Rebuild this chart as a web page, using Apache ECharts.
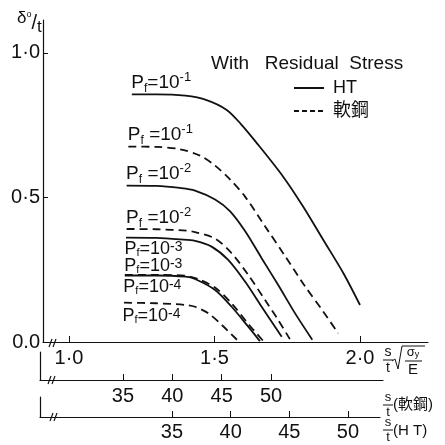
<!DOCTYPE html>
<html>
<head>
<meta charset="utf-8">
<script src="https://cdn.jsdelivr.net/npm/echarts@6/dist/echarts.min.js"></script>
<style>html,body{margin:0;padding:0;background:#fff}#c{width:445px;height:445px}</style>
</head>
<body>
<div id="c"></div>
<script>
// ---- tick values / labels ----
const xMainTickValues = [1.0, 1.5, 2.0];
const xMainTickLabels = ['1·0', '1·5', '2·0'];
const yTickValues = [0, 0.5, 1.0];
const yTickLabels = ['0.0', '0·5', '1·0'];
const mildTickValues = [35, 40, 45, 50];
const htTickValues = [35, 40, 45, 50];

// ---- curves: [λ = s/t·sqrt(σy/E), δo/t] ----
const ht_pf1 = [[1.216,0.857],[1.30,0.857],[1.40,0.852],[1.473,0.837],[1.542,0.803],[1.59,0.755],[1.64,0.695],[1.736,0.572],[1.805,0.468],[1.874,0.353],[1.943,0.238],[2.0,0.128]];
const mild_pf1 = [[1.204,0.676],[1.30,0.675],[1.381,0.667],[1.45,0.645],[1.50,0.612],[1.55,0.566],[1.605,0.503],[1.674,0.40],[1.742,0.298],[1.811,0.193],[1.874,0.105],[1.925,0.03]];
const ht_pf2 = [[1.198,0.541],[1.30,0.540],[1.381,0.533],[1.433,0.524],[1.502,0.493],[1.553,0.453],[1.605,0.384],[1.662,0.290],[1.719,0.197],[1.777,0.099],[1.836,0.008]];
const mild_pf2 = [[1.198,0.391],[1.30,0.390],[1.404,0.385],[1.433,0.380],[1.502,0.358],[1.559,0.307],[1.616,0.232],[1.674,0.145],[1.719,0.076],[1.759,0.010]];
const ht_pf3 = [[1.196,0.361],[1.30,0.360],[1.381,0.355],[1.433,0.350],[1.490,0.330],[1.547,0.284],[1.605,0.209],[1.662,0.122],[1.731,0.018]];
const mild_pf3 = [[1.192,0.232],[1.30,0.232],[1.40,0.229],[1.45,0.215],[1.505,0.186],[1.56,0.132],[1.62,0.058],[1.668,0.003]];
const ht_pf4 = [[1.192,0.230],[1.30,0.230],[1.40,0.226],[1.433,0.218],[1.502,0.180],[1.559,0.122],[1.616,0.053],[1.656,0.003]];
const mild_pf4 = [[1.189,0.136],[1.30,0.134],[1.404,0.128],[1.433,0.122],[1.479,0.099],[1.525,0.059],[1.582,0.003]];

const curveData = [ht_pf1, mild_pf1, ht_pf2, mild_pf2, ht_pf3, mild_pf3, ht_pf4, mild_pf4];
const curveNames = ['HT', '軟鋼', 'HT', '軟鋼', 'HT', '軟鋼', 'HT', '軟鋼'];
const curveLabels = [
  '{p|P}{sub|f}{p|=10}{sup|-1}',
  '{p|P}{sub|f}{p| =10}{sup|-1}',
  '{p|P}{sub|f}{p| =10}{sup|-2}',
  '{p|P}{sub|f}{p| =10}{sup|-2}',
  '{q|P}{qs|f}{q|=10}{qp|-3}',
  '{q|P}{qs|f}{q|=10}{qp|-3}',
  '{q|P}{qs|f}{q|=10}{qp|-4}',
  '{q|P}{qs|f}{q|=10}{qp|-4}'
];
const labelBelow = [false, false, false, false, true, false, true, true];

const FONT = "'Liberation Sans', 'Noto Sans CJK JP', sans-serif";
const INK = '#111';

const rich = {
  p: {fontSize: 19, lineHeight: 24, color: INK, fontFamily: FONT},
  sub: {fontSize: 12, lineHeight: 24, verticalAlign: 'bottom', color: INK, fontFamily: FONT},
  sup: {fontSize: 13, lineHeight: 24, verticalAlign: 'top', color: INK, fontFamily: FONT},
  q: {fontSize: 18, lineHeight: 18, color: INK, fontFamily: FONT},
  qs: {fontSize: 11, lineHeight: 18, verticalAlign: 'bottom', color: INK, fontFamily: FONT},
  qp: {fontSize: 14, lineHeight: 18, verticalAlign: 'top', color: INK, fontFamily: FONT}
};

function lookup(values, labels) {
  return function (v) {
    const i = values.findIndex(t => Math.abs(t - v) < 1e-9);
    return i >= 0 ? labels[i] : '';
  };
}

const series = curveData.map((d, i) => ({
  type: 'line',
  name: curveNames[i],
  xAxisIndex: 0, yAxisIndex: 0,
  data: d,
  smooth: 0.3,
  showSymbol: false,
  symbol: 'none',
  silent: true,
  lineStyle: {color: INK, width: 1.8, type: curveNames[i] === 'HT' ? 'solid' : [8, 5]},
  itemStyle: {color: INK},
  markPoint: {
    symbol: 'circle', symbolSize: 1, silent: true,
    itemStyle: {color: 'rgba(0,0,0,0)'},
    data: [{coord: d[0]}],
    label: {
      show: true,
      position: [0, 0],
      align: 'left',
      verticalAlign: labelBelow[i] ? 'top' : 'bottom',
      offset: labelBelow[i] ? [-1, i === 7 ? 5 : 3] : [0, 1],
      formatter: curveLabels[i],
      rich: rich
    }
  }
}));

function txt(x, y, text, size, align, valign) {
  return {type: 'text', x: x, y: y, style: {text: text, font: size + 'px ' + FONT, fill: INK,
    align: align, verticalAlign: valign, textAlign: align, textVerticalAlign: valign}};
}
function frac(cx, ybar, top, bottom, size) {
  return [
    txt(cx, ybar - 1, top, size, 'center', 'bottom'),
    {type: 'line', shape: {x1: cx - 5, y1: ybar, x2: cx + 5, y2: ybar}, style: {stroke: INK, lineWidth: 1}},
    txt(cx, ybar + 1, bottom, size, 'center', 'top')
  ];
}
function brk(x, y) {
  return [
    {type: 'line', shape: {x1: x - 3, y1: y + 4, x2: x, y2: y - 4}, style: {stroke: INK, lineWidth: 1.2}},
    {type: 'line', shape: {x1: x + 1, y1: y + 4, x2: x + 4, y2: y - 4}, style: {stroke: INK, lineWidth: 1.2}}
  ];
}

const graphics = [].concat(
  // title
  [txt(211, 54, 'With   Residual  Stress', 19, 'left', 'top')],
  // y axis name δo/t
  [{type: 'text', x: 17, y: 10, style: {
    text: '{d|δ}{o|o}{s|/}{t|t}', fill: INK,
    rich: {
      d: {fontSize: 17, fontFamily: FONT, lineHeight: 26, verticalAlign: 'top', color: INK},
      o: {fontSize: 9, fontFamily: FONT, lineHeight: 26, verticalAlign: 'top', color: INK},
      s: {fontSize: 20, fontFamily: FONT, lineHeight: 26, color: INK},
      t: {fontSize: 17, fontFamily: FONT, lineHeight: 26, verticalAlign: 'bottom', color: INK}
    }}}],
  // main x-axis name: s/t √(σy/E)
  frac(388, 360, 's', 't', 14),
  [{type: 'polyline', shape: {points: [[392, 361], [395, 359], [398, 369], [402, 346], [425, 346]]}, style: {stroke: INK, lineWidth: 1, fill: null}}],
  [{type: 'text', x: 413, y: 359, style: {text: '{a|σ}{b|y}', fill: INK, align: 'center', verticalAlign: 'bottom', textAlign: 'center', textVerticalAlign: 'bottom',
    rich: {a: {fontSize: 13, fontFamily: FONT, lineHeight: 14, color: INK}, b: {fontSize: 9, fontFamily: FONT, lineHeight: 14, verticalAlign: 'bottom', color: INK}}}},
   {type: 'line', shape: {x1: 405, y1: 361, x2: 422, y2: 361}, style: {stroke: INK, lineWidth: 1}},
   txt(413, 362, 'E', 15, 'center', 'top')],
  // mild steel axis name
  frac(388, 405, 's', 't', 13),
  [txt(393, 405, '(軟鋼)', 15, 'left', 'middle')],
  // HT axis name
  frac(388, 430, 's', 't', 13),
  [txt(393, 431, '(H T)', 15, 'left', 'middle')],
  brk(52, 343), brk(51, 380), brk(53, 417)
);

const option = {
  animation: false,
  backgroundColor: '#fff',
  legend: {
    orient: 'vertical', left: 293, top: 79, padding: 0,
    itemWidth: 30, itemHeight: 14, itemGap: 5,
    itemStyle: {opacity: 0},
    data: [{name: 'HT'}, {name: '軟鋼', lineStyle: {type: [5, 3]}}],
    textStyle: {fontSize: 18, color: INK, fontFamily: FONT, padding: [0, 0, 0, 4]},
    selectedMode: false
  },
  grid: [
    {left: 43, top: 20, width: 385, height: 322},
    {left: 40, top: 352, width: 343, height: 28},
    {left: 40, top: 397, width: 340, height: 20}
  ],
  xAxis: [
    {type: 'value', gridIndex: 0, min: 0.9107, max: 2.2337,
     axisLine: {show: true, lineStyle: {color: INK, width: 1.2}},
     axisTick: {show: true, inside: true, length: 6, lineStyle: {color: INK}, customValues: xMainTickValues},
     axisLabel: {customValues: xMainTickValues, formatter: lookup(xMainTickValues, xMainTickLabels), fontSize: 20, color: INK, fontFamily: FONT, margin: 6},
     splitLine: {show: false}},
    {type: 'value', gridIndex: 1, min: 26.59, max: 61.35,
     axisLine: {show: true, onZero: false, lineStyle: {color: INK, width: 1.2}},
     axisTick: {show: true, inside: true, length: 6, lineStyle: {color: INK}, customValues: mildTickValues},
     axisLabel: {customValues: mildTickValues, fontSize: 20, color: INK, fontFamily: FONT, margin: 6},
     splitLine: {show: false}},
    {type: 'value', gridIndex: 2, min: 23.75, max: 52.73,
     axisLine: {show: true, onZero: false, lineStyle: {color: INK, width: 1.2}},
     axisTick: {show: true, inside: true, length: 6, lineStyle: {color: INK}, customValues: htTickValues},
     axisLabel: {customValues: htTickValues, fontSize: 20, color: INK, fontFamily: FONT, margin: 5},
     splitLine: {show: false}}
  ],
  yAxis: [
    {type: 'value', gridIndex: 0, min: 0, max: 1.114,
     axisLine: {show: true, lineStyle: {color: INK, width: 1.2}},
     axisTick: {show: true, inside: true, length: 5, lineStyle: {color: INK}, customValues: yTickValues},
     axisLabel: {customValues: yTickValues, formatter: lookup(yTickValues, yTickLabels), fontSize: 20, color: INK, fontFamily: FONT, margin: 3},
     splitLine: {show: false}},
    {type: 'value', gridIndex: 1, min: 0, max: 1,
     axisLine: {show: true, lineStyle: {color: INK, width: 1.2}},
     axisTick: {show: false}, axisLabel: {show: false}, splitLine: {show: false}},
    {type: 'value', gridIndex: 2, min: 0, max: 1,
     axisLine: {show: true, lineStyle: {color: INK, width: 1.2}},
     axisTick: {show: false}, axisLabel: {show: false}, splitLine: {show: false}}
  ],
  graphic: graphics,
  series: series
};

const chart = echarts.init(document.getElementById('c'), null, {renderer: 'canvas'});
chart.setOption(option);
</script>
</body>
</html>
